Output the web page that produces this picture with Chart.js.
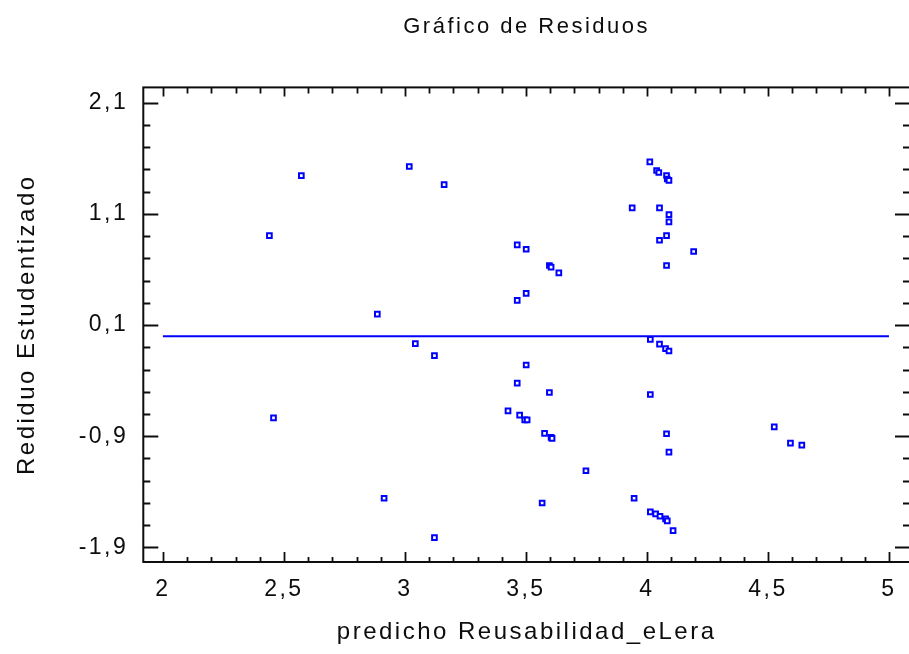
<!DOCTYPE html>
<html>
<head>
<meta charset="utf-8">
<script src="https://cdn.jsdelivr.net/npm/chart.js@4"></script>
<style>
    html, body { margin: 0; padding: 0; background: #fff; overflow: hidden; }
    #wrap { width: 916px; height: 654px; }
</style>
</head>
<body>
<div id="wrap"><canvas id="residChart" width="916" height="654"></canvas></div>
<script>
// predicted values (x) and studentized residuals (y)
const predicted = [
    2.440, 2.572, 3.018, 2.886, 2.457, 2.914, 3.043, 3.162, 3.939, 4.052,
    4.091, 4.091, 4.081, 4.052, 4.193, 4.081, 3.464, 3.501, 3.597, 3.604,
    3.636, 4.012, 4.040, 4.049, 4.081, 4.084, 4.091, 3.464, 3.501, 4.014,
    4.052, 4.077, 4.091, 3.122, 3.501, 3.464, 3.597, 4.014, 3.426, 3.474,
    3.495, 3.505, 3.577, 3.604, 3.608, 4.081, 4.091, 4.526, 4.593, 4.640,
    3.748, 3.567, 3.947, 4.014, 4.036, 4.054, 4.077, 4.084, 4.108, 3.122
];
const residuals = [
    0.905, 1.444, 1.527, 0.199, -0.735, -1.458, -0.067, 1.363, 1.154, 1.154,
    1.094, 1.028, 0.905, 0.863, 0.762, 0.636, 0.822, 0.782, 0.636, 0.621,
    0.570, 1.569, 1.491, 1.473, 1.446, 1.414, 1.402, 0.322, 0.385, -0.028,
    -0.071, -0.112, -0.133, -0.175, -0.259, -0.423, -0.507, -0.525, -0.672, -0.711,
    -0.753, -0.753, -0.875, -0.911, -0.920, -0.878, -1.043, -0.816, -0.962, -0.980,
    -1.211, -1.501, -1.458, -1.581, -1.599, -1.620, -1.644, -1.662, -1.749, -1.812
];

// zero line
const zeroLineX = [2, 5];
const zeroLineY = [0, 0];

// tick labels
const xTicks = [2, 2.5, 3, 3.5, 4, 4.5, 5];
const yTicks = [-1.9, -0.9, 0.1, 1.1, 2.1];

const fontFamily = "'Liberation Sans', Arial, sans-serif";
const ink = '#0d0d0d';
const blue = '#0000ff';

function fmt(v) {
    return String(Math.round(v * 10) / 10).replace('.', ',');
}

// frame and inward ticks, drawn from the scales
const framePlugin = {
    id: 'frame',
    beforeDraw(chart) {
        chart.ctx.letterSpacing = '2.5px';
    },
    afterDraw(chart) {
        const ctx = chart.ctx;
        const a = chart.chartArea;
        const xs = chart.scales.x;
        const ys = chart.scales.y;
        ctx.save();
        ctx.strokeStyle = ink;
        ctx.lineWidth = 2;
        ctx.strokeRect(a.left, a.top, a.right - a.left, a.bottom - a.top);

        ctx.beginPath();
        // x minor ticks every 0.1, major every 0.5
        for (let i = 0; i <= 30; i++) {
            const v = 2 + i * 0.1;
            const px = Math.round(xs.getPixelForValue(v)) + 0.5;
            const major = i % 5 === 0;
            ctx.moveTo(px, a.bottom);
            ctx.lineTo(px, a.bottom - (major ? 10 : 5));
            ctx.moveTo(px, a.top);
            ctx.lineTo(px, a.top + (major ? 9 : 6));
        }
        // y minor ticks every 0.2, major every 1
        for (let i = 0; i <= 20; i++) {
            const v = -1.9 + i * 0.2;
            const py = Math.round(ys.getPixelForValue(v)) + 0.5;
            const major = i % 5 === 0;
            ctx.moveTo(a.left, py);
            ctx.lineTo(a.left + (major ? 15 : 7), py);
            ctx.moveTo(a.right, py);
            ctx.lineTo(a.right - (major ? 15 : 7), py);
        }
        ctx.lineWidth = 1.8;
        ctx.stroke();
        ctx.restore();
    }
};

new Chart(document.getElementById('residChart').getContext('2d'), {
    type: 'scatter',
    data: {
        datasets: [
            {
                label: 'Residuos',
                data: predicted.map((x, i) => ({ x: x, y: residuals[i] })),
                pointStyle: 'rect',
                pointRadius: 3.3,
                pointBorderWidth: 2,
                borderColor: blue,
                backgroundColor: '#ffffff',
                showLine: false
            },
            {
                label: 'cero',
                data: zeroLineX.map((x, i) => ({ x: x, y: zeroLineY[i] })),
                showLine: true,
                borderColor: blue,
                borderWidth: 2,
                pointRadius: 0
            }
        ]
    },
    options: {
        responsive: false,
        animation: false,
        layout: { padding: 0 },
        plugins: {
            legend: { display: false },
            tooltip: { enabled: false },
            title: {
                display: true,
                text: 'Gráfico de Residuos',
                fullSize: false,
                color: ink,
                font: { family: fontFamily, size: 22, weight: 'normal' },
                padding: { top: 14, bottom: 47 }
            }
        },
        scales: {
            x: {
                type: 'linear',
                min: 1.919,
                max: 5.087,
                afterBuildTicks: (s) => { s.ticks = xTicks.map(v => ({ value: v })); },
                afterFit: (s) => { s.height = 92; },
                grid: { display: false, drawTicks: false },
                border: { display: false },
                ticks: {
                    autoSkip: false,
                    maxRotation: 0,
                    color: ink,
                    padding: 14,
                    font: { family: fontFamily, size: 23 },
                    callback: (v) => fmt(v)
                },
                title: {
                    display: true,
                    text: 'predicho Reusabilidad_eLera',
                    color: ink,
                    font: { family: fontFamily, size: 24 },
                    padding: { top: 0, bottom: 7 }
                }
            },
            y: {
                type: 'linear',
                min: -2.032,
                max: 2.2386,
                afterBuildTicks: (s) => { s.ticks = yTicks.map(v => ({ value: v })); },
                afterFit: (s) => { s.width = 143.3; },
                grid: { display: false, drawTicks: false },
                border: { display: false },
                ticks: {
                    autoSkip: false,
                    color: ink,
                    padding: 15,
                    font: { family: fontFamily, size: 23 },
                    callback: (v) => fmt(v)
                },
                title: {
                    display: true,
                    text: 'Rediduo Estudentizado',
                    color: ink,
                    font: { family: fontFamily, size: 24 },
                    padding: { top: 13, bottom: 0 }
                }
            }
        }
    },
    plugins: [framePlugin]
});
</script>
</body>
</html>
